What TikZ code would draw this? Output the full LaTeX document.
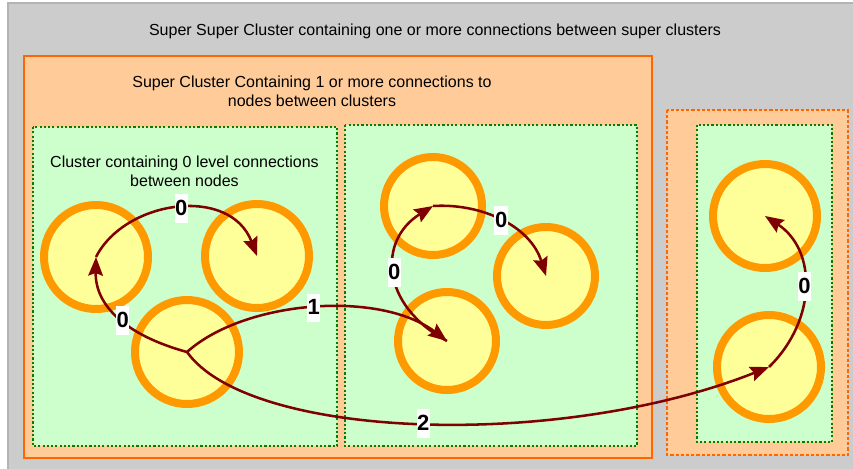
\documentclass[tikz,border=0pt]{standalone}
\usepackage{fontspec}
\setmainfont{Liberation Sans}
\usetikzlibrary{arrows.meta}

\definecolor{bggray}{HTML}{CCCCCC}
\definecolor{bgedge}{HTML}{B4B4B4}
\definecolor{superfill}{HTML}{FFCC99}
\definecolor{superedge}{HTML}{FF6600}
\definecolor{clusterfill}{HTML}{CCFFCC}
\definecolor{clusteredge}{HTML}{008000}
\definecolor{nodefill}{HTML}{FFFF99}
\definecolor{nodering}{HTML}{FF9900}
\definecolor{linkcolor}{HTML}{7F0000}

\tikzset{
  supercluster/.style={draw=superedge, fill=superfill, line width=1.5pt},
  superdashed/.style={draw=superedge, fill=superfill, line width=1.1pt,
    dash pattern=on 2.4pt off 1.5pt},
  cluster/.style={draw=clusteredge, fill=clusterfill, line width=1.4pt,
    dash pattern=on 1.6pt off 1.6pt},
  bignode/.style={circle, draw=nodering, fill=nodefill, line width=6pt,
    minimum size=78pt, inner sep=0pt, outer sep=0pt},
  smallnode/.style={bignode, minimum size=73.5pt},
  link/.style={draw=linkcolor, line width=1.9pt,
    -{Stealth[length=14pt, width=11pt, inset=2pt]}},
  lbl/.style={fill=white, inner xsep=0.4pt, inner ysep=1pt,
    font=\fontsize{16.5}{18}\selectfont\bfseries, text=black,
    text height=15pt, text depth=4.5pt},
  caption/.style={font=\fontsize{12}{14.25}\selectfont, align=center, text=black, inner sep=0pt}
}

\begin{document}
\begin{tikzpicture}[x=0.75pt, y=-0.75pt]
\useasboundingbox (0,0) rectangle (853,468);
\fill[white] (0,0) rectangle (853,468);

% outermost grey container
\draw[draw=bgedge, fill=bggray, line width=0.8pt] (8,3) rectangle (870,480);
\node[caption] (toptext) at (435,31)
  {Super Super Cluster containing one or more connections between super clusters};

% super clusters
\draw[supercluster] (24,56) rectangle (652,458);
\node[caption] (supertext) at (312,91)
  {Super Cluster Containing 1 or more connections to\\nodes between clusters};
\draw[superdashed] (667,110) rectangle (848,455);

% clusters
\draw[cluster] (33,127) rectangle (337,446);
\draw[cluster] (345,125) rectangle (637,446);
\draw[cluster] (697,125) rectangle (832,442);
\node[caption] (clustertext) at (184.5,171)
  {Cluster containing 0 level connections\\between nodes};

% nodes
\node[bignode] (L1) at (96,257) {};
\node[bignode] (L2) at (257,256) {};
\node[bignode] (L3) at (187,352) {};
\node[smallnode] (M1) at (433,206) {};
\node[smallnode] (M2) at (546,276) {};
\node[smallnode] (M3) at (447,341) {};
\node[bignode] (R1) at (765,216) {};
\node[bignode] (R2) at (769,367) {};

% level 0 connections
\draw[link] (L1.center) .. controls (125,200) and (230,185) .. node[lbl, pos=0.52] {0} (L2.center);
\draw[link] (L3.center) .. controls (125,335) and (95,305) .. node[lbl, pos=0.45] {0} (L1.center);
\draw[link] (M3.center) .. controls (380,305) and (378,240) .. node[lbl, pos=0.5] {0} (M1.center);
\draw[link] (M1.center) .. controls (480,203) and (530,225) .. node[lbl, pos=0.5] {0} (M2.center);
\draw[link] (R2.center) .. controls (817,320) and (817,250) .. node[lbl, pos=0.5] {0} (R1.center);

% level 1 and level 2 connections
\draw[link] (L3.center) .. controls (245,300) and (380,290) .. node[lbl, pos=0.5] {1} (M3.center);
\draw[link] (L3.center) .. controls (250,440) and (560,450) .. node[lbl, pos=0.5] {2} (R2.center);
\end{tikzpicture}
\end{document}
